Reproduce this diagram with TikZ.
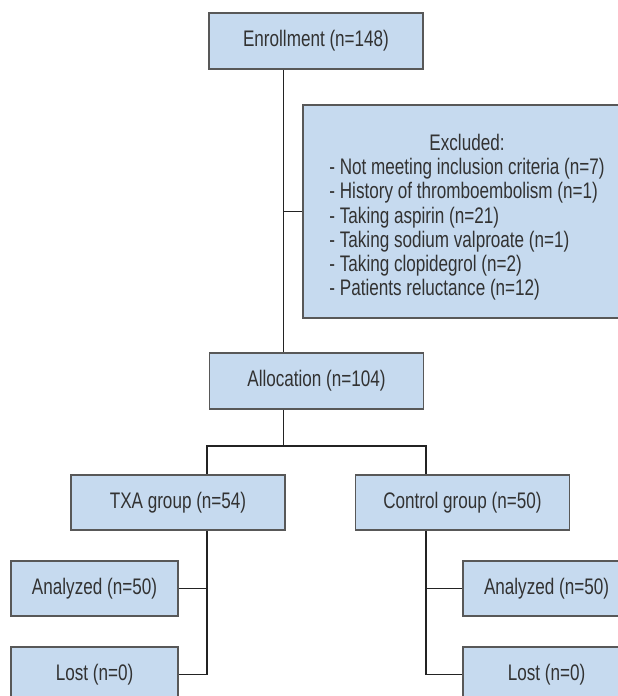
\documentclass[tikz,border=0pt]{standalone}
\usepackage{fontspec}
\setmainfont{Liberation Sans}[FakeStretch=0.76]
\usepackage{xcolor}
\usetikzlibrary{calc}

\definecolor{boxfill}{RGB}{198,218,239}
\definecolor{boxline}{RGB}{88,88,88}
\definecolor{wire}{RGB}{35,35,35}
\definecolor{ink}{RGB}{50,50,50}

\begin{document}
\begin{tikzpicture}[x=1pt,y=-1pt]
    \tikzset{
        box/.style={
            draw=boxline,
            fill=boxfill,
            line width=1.6pt,
            text=ink,
            inner sep=0pt,
            font=\fontsize{22.5}{24.2}\selectfont
        },
        wide/.style={box, minimum width=214pt, minimum height=56pt},
        small/.style={box, minimum width=167pt, minimum height=55pt},
        wire/.style={draw=wire, line width=1.6pt}
    }

    \useasboundingbox (0,0) rectangle (618,696);
    \clip (0,0) rectangle (618,696);

    \node[wide] (enroll) at (316,41){Enrollment (n=148)};
    \node[box, minimum width=328pt, minimum height=213pt] (excl) at (467,211.5){%
        \raisebox{-12pt}[0pt][0pt]{\begin{tabular}{@{}l@{}}
            \multicolumn{1}{c}{Excluded:}\\
            - Not meeting inclusion criteria (n=7)\\
            - History of thromboembolism (n=1)\\
            - Taking aspirin (n=21)\\
            - Taking sodium valproate (n=1)\\
            - Taking clopidegrol (n=2)\\
            - Patients reluctance (n=12)
        \end{tabular}}};
    \node[wide] (alloc) at (316.5,381){Allocation (n=104)};
    \node[wide, minimum height=55pt] (grp1) at (178,502.5){TXA group (n=54)};
    \node[wide, minimum height=55pt] (grp2) at (462.5,502.5){Control group (n=50)};
    \node[small] (ana1) at (94.5,588.5){Analyzed (n=50)};
    \node[small] (lost1) at (94.5,674.5){Lost (n=0)};
    \node[small] (ana2) at (546.5,588.5){Analyzed (n=50)};
    \node[small] (lost2) at (546.5,674.5){Lost (n=0)};

    \coordinate (trunk) at (283.5,0);
    \coordinate (left) at (207,0);
    \coordinate (right) at (426,0);
    \coordinate (split) at (0,446);

    \draw[wire] (enroll.south -| trunk) -- (alloc.north -| trunk);
    \draw[wire] (excl.west) -- (excl.west -| trunk);
    \draw[wire] (alloc.south -| trunk) -- (split -| trunk);
    \draw[wire] (grp1.north -| left) |- (split -| right) -- (grp2.north -| right);
    % left arm
    \draw[wire] (grp1.south -| left) |- (lost1.east);
    \draw[wire] (ana1.east) -- (ana1.east -| left);
    \draw[wire] (grp2.south -| right) |- (lost2.west);
    \draw[wire] (ana2.west) -- (ana2.west -| right);
\end{tikzpicture}
\end{document}
